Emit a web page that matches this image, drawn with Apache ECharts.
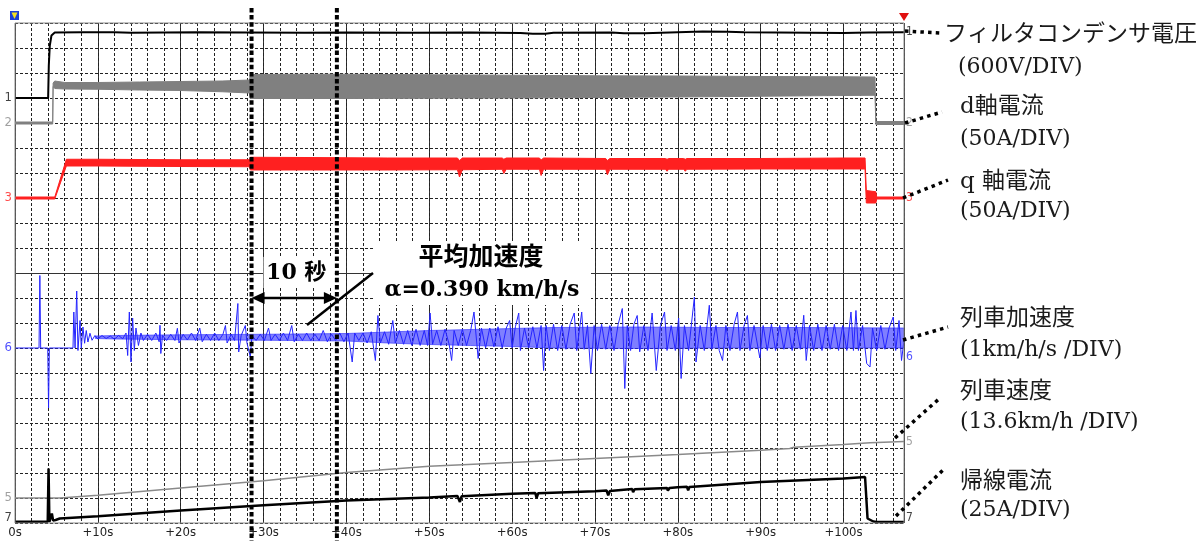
<!DOCTYPE html>
<html><head><meta charset="utf-8">
<script src="https://cdn.jsdelivr.net/npm/echarts@6/dist/echarts.min.js"></script>
<style>html,body{margin:0;padding:0;background:#fff;overflow:hidden}#c{width:1199px;height:541px}</style>
</head><body><div id="c"></div>
<script>
// ===== DATA (time in seconds, level in screen divisions counted from the bottom) =====
const xTickValues = [0,10,20,30,40,50,60,70,80,90,100];
const xTickLabels = ['0s','+10s','+20s','+30s','+40s','+50s','+60s','+70s','+80s','+90s','+100s'];
const timeSpan = 107.3;
const divisions = 20;

// trace 1 : filter capacitor voltage
const filterVoltage = [[0,17.0],[4.0,17.0],[4.08,18.3],[4.2,19.1],[4.4,19.5],[4.8,19.62],[8,19.63],[12,19.63],[14,19.61],[18,19.62],[22,19.63],[28,19.62],[35,19.61],[40,19.62],[48,19.61],[55,19.62],[61,19.6],[62.5,19.57],[64,19.57],[65,19.61],[72,19.62],[73.5,19.59],[76,19.59],[78,19.61],[83,19.66],[86,19.65],[88,19.63],[96,19.61],[100,19.6],[103,19.62],[107.3,19.63]];

// trace 2 : d-axis current (envelope of the ripple)
const dCurT  = [0, 4.55, 4.6, 4.8, 6, 10, 15, 20, 25, 28.3, 28.4, 35, 40, 50, 60, 70, 80, 90, 100, 103.8, 103.9, 107.3];
const dCurHi = [16.04,16.04,17.6,17.68,17.62,17.62,17.64,17.66,17.68,17.72,17.94,17.95,17.95,17.93,17.91,17.89,17.88,17.86,17.85,17.84,16.06,16.06];
const dCurLo = [15.96,15.96,17.45,17.38,17.36,17.35,17.32,17.3,17.25,17.2,16.98,16.98,16.98,16.99,17.0,17.02,17.04,17.07,17.1,17.11,15.94,15.94];

// trace 3 : q-axis current (envelope)
const qCurT  = [0, 4.8, 6.2, 10, 20, 28.3, 28.4, 35, 45, 53.4, 53.65, 54.0, 58.8, 59.0, 59.3, 63.3, 63.5, 63.8, 71.3, 71.5, 71.8, 78.5, 78.7, 78.9, 80.7, 80.9, 81.1, 90, 100, 102.6, 102.75, 103.9, 104.0, 107.3];
const qCurHi = [13.04,13.04,14.55,14.55,14.53,14.53,14.63,14.62,14.6,14.6,14.5,14.6,14.6,14.55,14.6,14.6,14.52,14.6,14.58,14.5,14.58,14.58,14.55,14.58,14.58,14.55,14.58,14.58,14.6,14.6,13.3,13.25,13.04,13.04];
const qCurLo = [12.96,12.96,14.28,14.28,14.26,14.25,14.12,14.12,14.12,14.13,13.84,14.13,14.15,13.98,14.15,14.15,13.9,14.15,14.15,13.93,14.15,14.15,14.07,14.15,14.15,14.07,14.15,14.16,14.16,14.16,12.8,12.8,12.96,12.96];

// trace 6 : train acceleration, dense core of the noise (envelope)
const accCoreT  = [9.7, 12, 20, 30, 40, 45, 50, 55, 60, 65, 75, 85, 95, 107.3];
const accCoreHi = [7.48, 7.5, 7.53, 7.55, 7.58, 7.64, 7.7, 7.74, 7.78, 7.82, 7.84, 7.82, 7.82, 7.8];
const accCoreLo = [7.38, 7.36, 7.33, 7.31, 7.28, 7.2, 7.14, 7.1, 7.06, 7.0, 6.98, 7.0, 7.0, 7.0];
// trace 6 : train acceleration, peaks and troughs read from the record
const accel = [
[0,7.0],[2.9,7.0],[3.0,9.9],[3.1,7.0],[3.95,7.0],[4.05,4.6],[4.15,7.0],[7.0,7.0],
[7.1,8.44],[7.25,7.0],[7.45,9.28],[7.6,6.9],[7.85,8.1],[8.0,6.99],[8.2,7.84],[8.4,7.19],[8.6,7.7],[8.8,7.24],[9.05,7.59],[9.3,7.31],[9.65,7.5],
[10.0,7.36],[10.5,7.5],[11.0,7.38],[11.5,7.48],[12.0,7.35],[12.5,7.5],[13.0,7.37],
[13.4,7.6],[13.6,6.7],[13.8,8.44],[14.0,6.44],[14.2,8.2],[14.4,6.9],[14.6,7.8],[14.9,7.1],[15.2,7.6],
[15.5,7.3],[16.0,7.55],[16.5,7.3],[17.0,7.6],[17.4,7.25],[17.5,7.91],[17.6,6.78],[17.8,7.5],[18.3,7.3],[18.8,7.55],[19.3,7.3],[19.6,7.79],[19.8,7.2],
[20.3,7.55],[20.8,7.32],[21.3,7.6],[21.8,7.3],[22.3,7.8],[22.6,7.25],[23.1,7.55],[23.6,7.3],[24.1,7.6],[24.6,7.3],[25.1,7.55],[25.4,7.9],[25.6,7.2],
[26.1,7.55],[26.5,7.3],[26.9,8.78],[27.0,6.84],[27.3,7.5],[27.8,7.9],[28.0,7.2],[28.4,6.64],[28.6,7.5],[29.1,7.3],[29.6,7.55],[30.1,7.3],[30.6,7.8],
[30.9,7.3],[31.4,7.55],[31.9,7.3],[32.4,7.6],[32.9,7.3],[33.4,7.9],[33.7,7.25],[34.2,7.55],[34.7,7.3],[35.2,7.6],[35.7,7.3],[36.2,7.55],[36.7,7.3],
[37.2,7.7],[37.7,7.25],[38.2,7.55],[38.7,7.3],[39.2,7.6],[39.7,7.25],[40.2,7.6],[40.7,6.44],[41.0,7.6],[41.5,7.3],[42.0,7.6],[42.5,7.2],[43.0,7.65],
[43.5,6.5],[43.8,8.3],[44.1,7.2],[44.6,7.65],[45.1,7.15],[45.6,8.1],[45.9,7.2],[46.4,7.7],[46.9,7.15],[47.4,7.7],[47.9,7.1],[48.4,7.75],[48.9,7.1],
[49.4,7.7],[49.8,7.1],[50.1,8.4],[50.4,7.15],[50.9,7.7],[51.4,7.1],[51.9,7.75],[52.4,7.15],[52.7,6.5],[53.0,7.7],[53.5,7.1],[54.0,7.75],[54.5,7.1],
[55.0,7.7],[55.4,8.44],[55.9,6.58],[56.3,7.8],[56.8,7.0],[57.3,7.8],[57.8,7.05],[58.3,7.85],[58.8,7.0],[59.3,7.8],[59.7,8.1],[60.0,7.0],[60.4,7.85],
[60.8,8.4],[61.0,6.9],[61.5,7.8],[62.0,7.0],[62.5,7.85],[63.0,7.0],[63.5,7.9],[63.8,6.1],[64.1,7.9],[64.5,6.9],[65.0,7.95],[65.5,6.9],[66.0,7.9],
[66.5,6.95],[67.0,7.95],[67.5,8.4],[67.8,6.9],[68.4,8.44],[68.7,6.95],[69.1,7.9],[69.5,5.98],[69.9,7.9],[70.3,6.9],[70.8,7.95],[71.3,6.95],[71.8,7.9],
[72.3,6.9],[72.8,7.95],[73.3,8.58],[73.6,5.38],[73.9,7.9],[74.3,6.9],[74.7,7.95],[75.1,8.3],[75.4,6.85],[75.9,7.9],[76.4,6.9],[76.9,8.4],[77.4,6.1],
[77.9,7.9],[78.4,8.44],[78.7,6.9],[79.2,7.9],[79.7,6.9],[80.1,8.2],[80.4,5.78],[80.8,7.9],[81.3,6.9],[82.0,9.04],[82.2,6.44],[82.7,7.9],[83.2,6.9],
[83.8,8.71],[84.1,6.95],[84.6,7.9],[85.0,6.9],[85.4,6.5],[85.8,7.9],[86.3,6.9],[86.8,7.95],[87.2,8.44],[87.5,6.9],[88.0,7.9],[88.4,8.3],[88.7,6.9],
[89.2,7.9],[89.9,6.6],[90.3,7.9],[90.8,6.9],[91.3,7.95],[91.8,6.9],[92.3,7.9],[92.8,6.95],[93.3,7.95],[93.8,6.9],[94.3,7.9],[94.8,6.95],[95.2,8.31],
[95.5,6.5],[95.9,7.9],[96.4,6.9],[96.9,7.95],[97.4,6.9],[97.9,7.9],[98.4,6.95],[98.9,7.95],[99.4,6.9],[99.9,7.9],[100.4,6.9],[100.9,8.44],[101.2,6.9],
[101.5,8.5],[101.8,6.9],[102.3,7.9],[102.8,6.38],[103.2,6.24],[103.5,7.8],[104.0,6.9],[104.5,7.9],[105.0,6.95],[105.5,7.8],[106.0,8.24],[106.3,6.9],
[106.7,8.1],[107.0,6.5],[107.3,7.3]];

// trace 5 : train speed
const speed = [[0,1.0],[5.4,1.0],[10,1.11],[20,1.4],[30,1.69],[40,2.02],[50,2.27],[60,2.42],[70,2.58],[80,2.74],[90,2.91],[93.5,2.98],[94,3.03],[100,3.14],[103.2,3.21],[107.3,3.26]];

// trace 7 : return current
const returnCurrent = [[0,0.05],[3.95,0.05],[4.05,2.18],[4.15,0.04],[4.3,0.03],[4.45,0.38],[4.6,0.1],[4.9,0.12],[5.4,0.18],[10,0.27],[20,0.5],[30,0.71],[40,0.9],[50,1.02],[53.4,1.08],[53.7,0.84],[53.9,1.07],[60,1.17],[62.8,1.2],[62.95,1.0],[63.15,1.19],[70,1.27],[71.4,1.3],[71.6,1.11],[71.8,1.28],[74.5,1.36],[74.6,1.23],[74.8,1.35],[78.7,1.4],[78.8,1.3],[79.0,1.4],[80,1.43],[81.1,1.45],[81.25,1.31],[81.4,1.44],[90,1.64],[100,1.78],[102.6,1.84],[102.9,0.18],[103.6,0.06],[104,0.04],[107.3,0.04]];

// channel numbers and their levels (left = start, right = end of record)
const chanNames = ['1','2','3','6','5','7'];
const chanLevelLeft  = [17.0, 16.0, 13.0, 7.0, 1.0, 0.2];
const chanLevelRight = [19.63, 16.0, 13.0, 6.65, 3.26, 0.2];

// annotation values
const measureStart = 28.55, measureEnd = 38.85; // seconds
const arrowLevel = 9.0;
const rightTitles = ['フィルタコンデンサ電圧','d軸電流','q 軸電流','列車加速度','列車速度','帰線電流'];
const rightUnits  = ['(600V/DIV)','(50A/DIV)','(50A/DIV)','(1km/h/s /DIV)','(13.6km/h /DIV)','(25A/DIV)'];
const periodText = '10 秒';
const avgTitle = '平均加速度';
const avgValue = 'α=0.390 km/h/s';

// ===== CHART =====
const chanColors = ['#111','#888','#ff2020','#2424ff','#888','#111'];
const GRID = {left:15, top:23, width:889, height:500};
const numFont = '"Liberation Sans Narrow","DejaVu Sans Condensed",sans-serif';

function band(name, T, lo, hi, color, opacity, z){
  return {
    name:name, type:'custom', z:z, silent:true, clip:true,
    data:T.map((t,i)=>[t,lo[i],hi[i]]),
    encode:{x:0, y:[1,2]},
    renderItem:function(params, api){
      if (params.dataIndex !== 0) return null;
      const pts = [];
      for (let i=0;i<T.length;i++) pts.push(api.coord([T[i],hi[i]]));
      for (let i=T.length-1;i>=0;i--) pts.push(api.coord([T[i],lo[i]]));
      return {type:'polygon', shape:{points:pts}, style:{fill:color, stroke:color, lineWidth:1, opacity:opacity}};
    }
  };
}

const series = [
  band('dCur', dCurT, dCurLo, dCurHi, '#808080', 1, 2),
  band('qCur', qCurT, qCurLo, qCurHi, '#ff2020', 1, 3),
  band('accCore', accCoreT, accCoreLo, accCoreHi, '#2a2aff', 0.6, 4),
  {name:'accel', type:'line', data:accel, symbol:'none', lineStyle:{color:'#2424ff',width:1}, z:4, silent:true},
  {name:'speed', type:'line', data:speed, symbol:'none', lineStyle:{color:'#8a8a8a',width:1.5}, z:5, silent:true,
   markLine:{silent:true, symbol:'none', label:{show:false}, lineStyle:{color:'#333',type:'solid',width:1},
     data:[{yAxis:divisions/2}]}},
  {name:'return', type:'line', data:returnCurrent, symbol:'none', lineStyle:{color:'#000',width:2.5}, z:6, silent:true},
  {name:'voltage', type:'line', data:filterVoltage, symbol:'none', lineStyle:{color:'#000',width:2}, z:7, silent:true},
  {name:'chanLeft', type:'scatter', symbolSize:0, z:8, silent:true,
   data:chanNames.map((n,i)=>({value:[0,chanLevelLeft[i]], name:n,
     label:{show:true, position:'left', distance:3, formatter:n, color:chanColors[i], fontSize:13, fontFamily:numFont}}))},
  {name:'chanRight', type:'scatter', symbolSize:0, z:8, silent:true,
   data:chanNames.map((n,i)=>({value:[timeSpan,chanLevelRight[i]], name:n,
     label:{show:true, position:'right', distance:2, formatter:n, color:chanColors[i], fontSize:12, fontFamily:numFont}}))}
];

const option = {
  animation:false,
  backgroundColor:'#fff',
  grid:Object.assign({show:false, containLabel:false}, GRID),
  xAxis:[
    {type:'value', min:0, max:timeSpan, interval:10, axisLine:{show:false}, axisTick:{show:false},
     axisLabel:{showMaxLabel:false, color:'#222', fontSize:13, fontFamily:numFont, margin:3,
       formatter:v=>{const k=xTickValues.indexOf(v); return k>=0?xTickLabels[k]:'';}},
     splitLine:{show:true, lineStyle:{color:'#333',width:1,type:'solid'}}},
    {type:'value', min:0, max:timeSpan, interval:2, axisLine:{show:false}, axisTick:{show:false}, axisLabel:{show:false},
     splitLine:{show:true, lineStyle:{color:'#222',width:1,type:[3,2]}}}
  ],
  yAxis:[
    {type:'value', min:0, max:divisions, interval:1, axisLine:{show:false}, axisTick:{show:false}, axisLabel:{show:false},
     splitLine:{show:true, lineStyle:{color:'#222',width:1,type:[3,2]}}}
  ],
  series:series
};

const chart = echarts.init(document.getElementById('c'), null, {renderer:'canvas'});
chart.setOption(option);

// ===== annotations (placed with the chart's own scale) =====
const P = (t,v)=>chart.convertToPixel({xAxisIndex:0,yAxisIndex:0},[t,v]);
const tl = P(0,divisions), br = P(timeSpan,0);
const xs = P(measureStart,arrowLevel)[0], xe = P(measureEnd,arrowLevel)[0], ya = P(measureStart,arrowLevel)[1];
const serif = '"DejaVu Serif","Noto Sans CJK JP",serif';
const g = [];
g.push({type:'rect', z:50, shape:{x:tl[0],y:tl[1],width:br[0]-tl[0],height:br[1]-tl[1]}, style:{fill:null,stroke:'#8a8a8a',lineWidth:1}});
g.push({type:'rect', z:60, shape:{x:10,y:11,width:9,height:9}, style:{fill:'#1d3fd6'}});
g.push({type:'polygon', z:61, shape:{points:[[11.5,12.5],[17.5,12.5],[14.5,19]]}, style:{fill:'#f5e020'}});
g.push({type:'polygon', z:60, shape:{points:[[br[0]-5,13],[br[0]+5,13],[br[0],21]]}, style:{fill:'#e01010'}});
g.push({type:'rect', z:70, shape:{x:xs+12,y:257,width:xe-xs-14,height:31}, style:{fill:'#fff'}});
g.push({type:'rect', z:70, shape:{x:373,y:241,width:218,height:64}, style:{fill:'#fff'}});
[xs,xe].forEach(x=>g.push({type:'line', z:80, shape:{x1:x,y1:8,x2:x,y2:541}, style:{stroke:'#000',lineWidth:4,lineDash:[4.5,2.6]}}));
g.push({type:'line', z:81, shape:{x1:xs+10,y1:ya,x2:xe-10,y2:ya}, style:{stroke:'#000',lineWidth:2.5}});
g.push({type:'polygon', z:81, shape:{points:[[xs,ya],[xs+13,ya-6],[xs+13,ya+6]]}, style:{fill:'#000'}});
g.push({type:'polygon', z:81, shape:{points:[[xe,ya],[xe-13,ya-6],[xe-13,ya+6]]}, style:{fill:'#000'}});
g.push({type:'text', z:82, style:{text:periodText, x:(xs+xe)/2+2, y:273, align:'center', verticalAlign:'middle', font:'bold 22px '+serif, fill:'#000'}});
g.push({type:'line', z:81, shape:{x1:307,y1:325,x2:373,y2:273}, style:{stroke:'#000',lineWidth:2.5}});
g.push({type:'text', z:82, style:{text:avgTitle, x:481, y:258, align:'center', verticalAlign:'middle', font:'bold 25px '+serif, fill:'#000'}});
g.push({type:'text', z:82, style:{text:avgValue, x:482, y:290, align:'center', verticalAlign:'middle', font:'bold 22px '+serif, fill:'#000'}});
const leaders = [[905,31,940,33],[905,123,942,112],[903,198,948,180],[903,340,948,327],[895,438,940,398],[896,516,943,470]];
const titlePos = [[944,35],[960,107],[960,182],[960,319],[960,392],[960,482]];
const unitPos  = [[958,67],[960,139],[960,211],[960,350],[960,422],[960,510]];
leaders.forEach(l=>g.push({type:'line', z:83, shape:{x1:l[0],y1:l[1],x2:l[2],y2:l[3]}, style:{stroke:'#000',lineWidth:3.5,lineDash:[3.5,4.2]}}));
rightTitles.forEach((t,i)=>{
  g.push({type:'text', z:84, style:{text:t, x:titlePos[i][0], y:titlePos[i][1], verticalAlign:'middle', font:'23px '+serif, fill:'#1a1a1a'}});
  g.push({type:'text', z:84, style:{text:rightUnits[i], x:unitPos[i][0], y:unitPos[i][1], verticalAlign:'middle', font:'22px '+serif, fill:'#1a1a1a'}});
});
chart.setOption({graphic:{elements:g}});
</script></body></html>
